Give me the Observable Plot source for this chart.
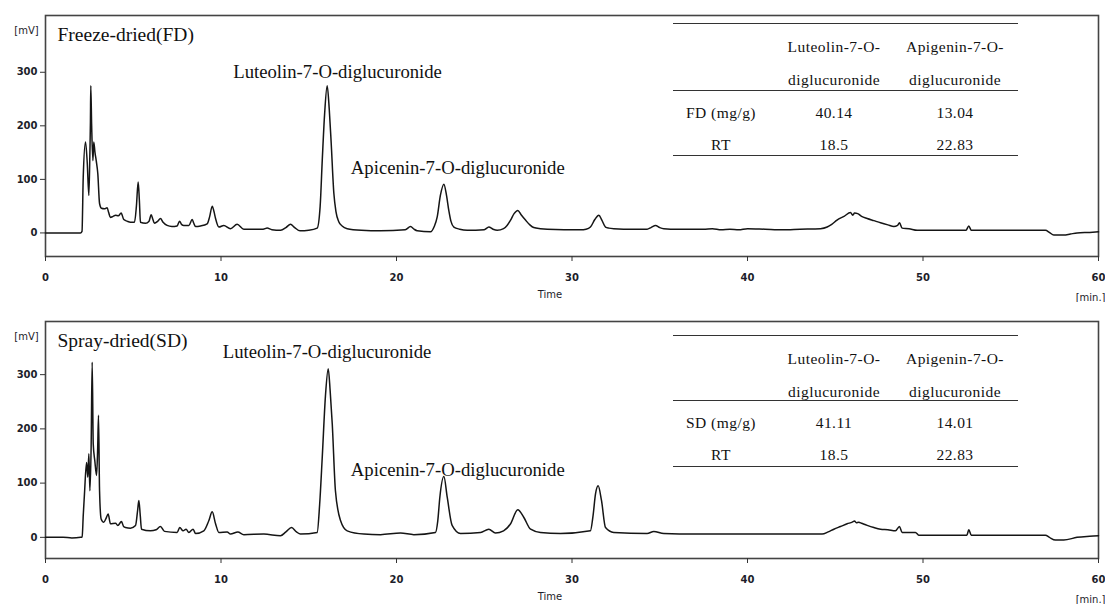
<!DOCTYPE html>
<html>
<head>
<meta charset="utf-8">
<script src="https://cdn.jsdelivr.net/npm/d3@7"></script>
<script src="https://cdn.jsdelivr.net/npm/@observablehq/plot@0.6"></script>
<style>
  html, body { margin: 0; padding: 0; background: #fff; }
  #chart { width: 1105px; }
  .panel { position: relative; width: 1105px; height: 302px; }
  .panel svg { display: block; }
  .tline { position: absolute; height: 0; border-top: 1.4px solid #333; }
  .tcell { position: absolute; transform: translate(-50%, -50%); white-space: nowrap;
           font-family: "Liberation Serif", "DejaVu Serif", serif; font-size: 15.5px; letter-spacing: 0.45px; color: #111; }
</style>
</head>
<body>
<div id="chart"></div>
<script>
// ---------- data ----------
const xTicks = [0, 10, 20, 30, 40, 50, 60];
const yTicks = [0, 100, 200, 300];

const fdTime = [0,1.99,2.08,2.15,2.28,2.38,2.47,2.53,2.56,2.58,2.63,2.7,2.75,2.82,2.89,2.98,3.08,3.19,3.35,3.51,3.6,3.7,3.85,3.99,4.15,4.31,4.46,4.65,4.84,5.07,5.18,5.28,5.35,5.41,5.7,5.9,6.02,6.12,6.21,6.4,6.55,6.7,6.93,7.2,7.5,7.64,7.75,7.88,8.17,8.36,8.45,8.55,8.83,9.21,9.35,9.5,9.6,9.69,9.88,10.16,10.54,10.92,11.3,12.0,12.4,12.63,12.9,13.4,13.7,13.96,14.2,14.5,15.0,15.48,15.65,15.77,15.9,16.05,16.17,16.28,16.43,16.55,16.71,16.9,17.19,18.0,19.09,20.5,20.8,21.0,21.18,21.94,22.15,22.32,22.5,22.7,22.85,22.98,23.1,23.27,23.6,24.03,25.0,25.26,25.5,25.74,26.1,26.3,26.5,26.7,26.91,27.1,27.35,27.6,27.82,28.2,28.59,30.5,30.8,31.05,31.3,31.53,31.7,31.91,32.1,32.38,33.5,34.28,34.5,34.76,35.0,35.23,36.0,37.5,38.0,38.5,39.0,39.5,40.0,41.0,42.0,43.0,44.16,44.54,44.8,45.1,45.5,45.87,46.0,46.1,46.28,46.5,46.82,47.2,47.58,48.0,48.34,48.55,48.66,48.81,49.2,49.67,50.5,52.45,52.61,52.75,54.0,56.98,57.2,57.45,58.02,58.4,58.78,59.5,60];
const fdSignal = [0,0,3,104,170,130,70,150,207,275,200,135,170,150,135,111,55,46,45,47,38,29,31,33,32,37,25,22,20,20,50,95,60,20,18,22,34,25,18,22,27,20,14,12,13,22,16,14,14,25,18,12,13,17,30,50,40,27,11,14,8,16,7,7,7,9,6,5,10,16,10,4,5,9,50,136,220,275,230,167,74,40,21,13,8,5,4,6,12,7,4,2,12,30,70,91,70,42,22,11,7,5,6,11,7,5,8,14,24,36,42,34,24,15,10,8,7,6,7,11,25,33,24,11,9,8,7,7,10,14,10,8,7,7,8,6,7,6,8,7,6,7,8,11,16,24,31,38,33,37,36,31,27,23,19,15,12,14,19,9,8,5,5,5,13,5,5,5,1,-4,-4,-2,0,1,2];

const sdTime = [0,1.0,1.5,2.0,2.09,2.15,2.22,2.34,2.41,2.47,2.53,2.6,2.66,2.72,2.81,2.91,2.97,3.02,3.08,3.17,3.32,3.45,3.57,3.7,3.99,4.12,4.33,4.45,4.56,4.84,5.13,5.25,5.32,5.4,5.47,5.98,6.3,6.55,6.78,7.5,7.65,7.84,8.01,8.17,8.41,8.55,9.02,9.31,9.5,9.69,9.88,10.35,10.54,10.96,11.3,12.44,13.39,13.7,14.02,14.3,14.53,15.48,15.62,15.77,15.95,16.11,16.22,16.34,16.52,16.81,17.19,18.14,19.09,20.23,20.99,22.22,22.35,22.47,22.7,22.89,23.17,23.65,24.79,25.26,25.64,26.1,26.5,26.91,27.25,27.64,28.2,29.34,31.05,31.2,31.34,31.49,31.68,31.91,32.38,34.28,34.66,35.23,37.0,39.0,41.0,43.0,44.25,44.6,44.92,45.3,45.68,45.97,46.1,46.2,46.34,46.5,46.82,47.2,47.58,48.0,48.43,48.66,48.81,49.57,49.76,52.5,52.61,52.75,56.98,57.2,57.55,58.02,58.78,59.5,60];
const sdSignal = [0,0,-1,0,1,40,80,138,111,154,86,166,323,172,141,114,160,225,86,34,28,35,43,25,26,22,29,20,18,17,22,50,68,40,15,12,14,20,11,9,18,12,15,9,15,7,12,31,47,25,9,10,6,10,5,6,3,10,18,10,6,9,60,148,260,311,270,209,86,31,12,6,5,8,5,9,30,74,112,74,22,7,9,15,8,12,25,51,37,15,9,7,12,40,80,95,68,18,9,7,11,7,6,6,6,6,6,10,15,20,25,28,30,27,28,26,22,18,15,14,12,20,9,9,4,4,14,4,4,0,-5,-5,0,2,3];

const peakNames = ["Luteolin-7-O-diglucuronide", "Apicenin-7-O-diglucuronide"];
const fdLabelTime = [10.7, 17.4];
const fdLabelValue = [300, 121];
const sdLabelTime = [10.1, 17.4];
const sdLabelValue = [341, 125];

const tableHeader = [["", ""], ["Luteolin-7-O-", "diglucuronide"], ["Apigenin-7-O-", "diglucuronide"]];
const fdTableRows = [["FD (mg/g)", "40.14", "13.04"], ["RT", "18.5", "22.83"]];
const sdTableRows = [["SD (mg/g)", "41.11", "14.01"], ["RT", "18.5", "22.83"]];

// ---------- drawing ----------
function chromatogram({time, signal, title, labelTime, labelValue, yDomain, marginTop}) {
  const idx = d3.range(time.length);
  return Plot.plot({
    width: 1105,
    height: 302,
    marginLeft: 45,
    marginRight: 7,
    marginTop,
    marginBottom: 46,
    style: {fontFamily: "DejaVu Sans, sans-serif", fontSize: "10px", fontWeight: "bold", color: "#1d1d2a", background: "#fff", overflow: "visible"},
    x: {domain: [0, 60]},
    y: {domain: yDomain},
    marks: [
      Plot.frame({stroke: "#444", strokeWidth: 1.6}),
      Plot.axisX({ticks: xTicks, tickSize: 5, tickPadding: 12, label: null, stroke: "#333"}),
      Plot.axisY({ticks: yTicks, tickSize: 5, tickPadding: 3, label: null, stroke: "#333"}),
      Plot.line(idx, {x: i => time[i], y: i => signal[i], stroke: "#151515", strokeWidth: 1.5, curve: "monotone-x"}),
      Plot.text([title], {frameAnchor: "top-left", lineAnchor: "middle", dx: 12, dy: 19, textAnchor: "start", fontFamily: "Liberation Serif, serif", fontSize: 19.5, fontWeight: "normal", fill: "#111"}),
      Plot.text(["[mV]"], {frameAnchor: "top-left", lineAnchor: "middle", dx: -19, dy: 15, textAnchor: "middle", fontSize: 10, fontWeight: "normal", fill: "#1d1d2a"}),
      Plot.text(peakNames, {x: (d, i) => labelTime[i], y: (d, i) => labelValue[i], text: d => d, textAnchor: "start", fontFamily: "Liberation Serif, serif", fontSize: 18.7, fontWeight: "normal", fill: "#111"}),
      Plot.text(["Time"], {frameAnchor: "bottom", lineAnchor: "middle", dx: -22, dy: 38, fontSize: 10, fontWeight: "normal", fill: "#1d1d2a"}),
      Plot.text(["[min.]"], {frameAnchor: "bottom-right", lineAnchor: "middle", textAnchor: "end", dx: 7, dy: 41, fontSize: 10, fontWeight: "normal", fill: "#1d1d2a"})
    ]
  });
}

function addTable(panel, rows, lines, headerY, rowY) {
  const colX = [721, 834, 955];
  const left = 673, right = 1018;
  lines.forEach((y, k) => {
    const l = document.createElement("div");
    l.className = "tline";
    l.style.left = left + "px";
    l.style.width = (right - left) + "px";
    l.style.top = y + "px";
    if (k === 0) l.style.borderTopWidth = "1.6px";
    panel.appendChild(l);
  });
  const put = (txt, x, y) => {
    if (!txt) return;
    const c = document.createElement("div");
    c.className = "tcell";
    c.textContent = txt;
    c.style.left = x + "px";
    c.style.top = y + "px";
    panel.appendChild(c);
  };
  tableHeader.forEach((h, j) => { put(h[0], colX[j], headerY[0]); put(h[1], colX[j], headerY[1]); });
  rows.forEach((r, i) => r.forEach((v, j) => put(v, colX[j], rowY[i])));
}

const root = document.getElementById("chart");

const p1 = document.createElement("div");
p1.className = "panel";
p1.appendChild(chromatogram({time: fdTime, signal: fdSignal, title: "Freeze-dried(FD)", labelTime: fdLabelTime, labelValue: fdLabelValue, yDomain: [-44, 406], marginTop: 15}));
addTable(p1, fdTableRows, [23, 90, 155], [47, 80], [113, 145]);
root.appendChild(p1);

const p2 = document.createElement("div");
p2.className = "panel";
p2.appendChild(chromatogram({time: sdTime, signal: sdSignal, title: "Spray-dried(SD)", labelTime: sdLabelTime, labelValue: sdLabelValue, yDomain: [-39, 398], marginTop: 19}));
addTable(p2, sdTableRows, [33, 98, 164], [57, 90], [121, 153]);
root.appendChild(p2);
</script>
</body>
</html>
